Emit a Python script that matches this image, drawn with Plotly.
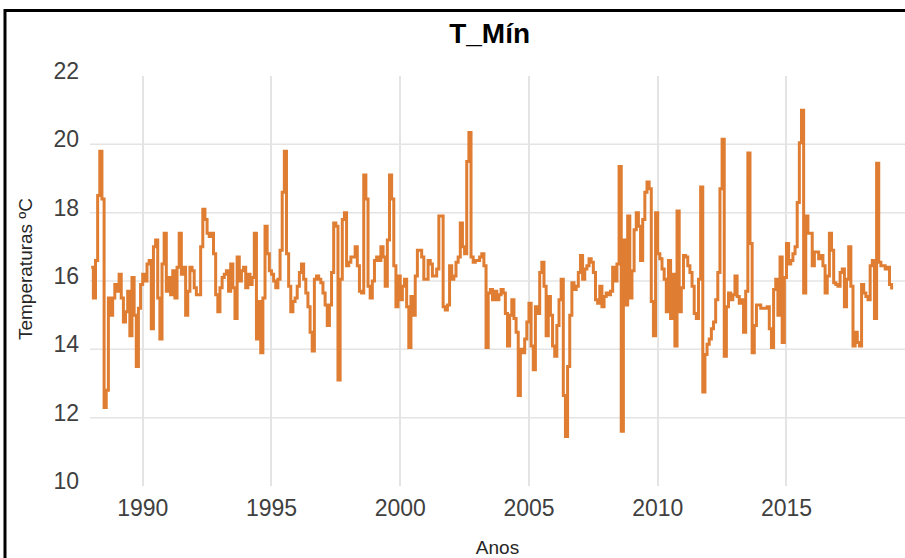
import plotly.graph_objects as go

# Monthly minimum temperature (ºC), Jan 1988 .. Feb 2019
t_1988 = [16.4, 15.5, 16.6, 18.5, 19.8, 18.4, 12.3, 12.8, 15.5, 15.0, 15.5, 15.9]
t_1989 = [15.7, 16.2, 15.5, 14.8, 15.1, 15.7, 14.4, 16.1, 15.0, 13.5, 15.2, 15.9]
t_1990 = [16.2, 16.0, 16.5, 16.6, 14.6, 17.0, 17.2, 15.5, 14.3, 16.5, 17.4, 15.7]
t_1991 = [16.1, 15.6, 16.3, 15.5, 16.4, 17.4, 16.2, 16.4, 15.0, 15.7, 16.4, 16.3]
t_1992 = [15.8, 15.6, 15.6, 17.0, 18.1, 17.8, 17.4, 17.3, 17.4, 16.8, 15.6, 15.1]
t_1993 = [15.8, 16.1, 16.2, 16.3, 15.7, 16.5, 15.8, 14.9, 16.7, 16.0, 16.3, 16.4]
t_1994 = [15.8, 16.2, 15.9, 16.1, 17.4, 14.3, 15.4, 13.9, 15.5, 17.6, 16.8, 16.3]
t_1995 = [16.2, 16.0, 15.8, 16.05, 16.9, 18.6, 19.8, 16.8, 15.85, 15.1, 15.4, 15.5]
t_1996 = [15.85, 16.25, 16.5, 16.05, 15.65, 15.25, 14.5, 13.95, 16.05, 16.15, 16.05, 15.95]
t_1997 = [15.65, 15.3, 14.7, 15.3, 16.25, 17.7, 17.6, 13.1, 16.05, 17.8, 18.0, 16.45]
t_1998 = [16.55, 16.7, 16.7, 17.0, 16.45, 15.7, 15.65, 19.1, 18.4, 15.85, 15.5, 16.0]
t_1999 = [16.6, 16.7, 16.6, 17.0, 16.7, 15.85, 17.2, 19.1, 18.4, 16.45, 15.25, 16.15]
t_2000 = [15.45, 15.85, 16.05, 15.25, 14.05, 15.55, 15.0, 16.15, 16.9, 16.9, 16.7, 16.05]
t_2001 = [16.05, 16.6, 16.5, 16.15, 16.15, 16.35, 17.9, 17.9, 15.25, 15.15, 15.3, 16.45]
t_2002 = [16.05, 16.15, 16.55, 16.7, 17.7, 17.0, 16.8, 19.5, 20.35, 16.7, 16.55, 16.6]
t_2003 = [16.6, 16.7, 16.8, 16.45, 14.05, 15.65, 15.75, 15.45, 15.7, 15.45, 15.6, 15.75]
t_2004 = [15.65, 15.05, 14.1, 15.0, 15.45, 14.9, 14.5, 12.65, 14.0, 13.9, 14.3, 14.8]
t_2005 = [15.35, 14.1, 13.4, 15.25, 15.05, 16.25, 16.55, 15.85, 14.4, 15.55, 15.0, 14.1]
t_2006 = [13.8, 14.7, 15.45, 16.05, 12.65, 11.45, 13.5, 15.0, 15.95, 15.75, 15.85, 16.25]
t_2007 = [16.75, 16.05, 16.35, 16.45, 16.65, 16.55, 16.25, 15.45, 15.35, 15.85, 15.25, 15.55]
t_2008 = [15.65, 15.6, 15.7, 16.4, 16.0, 16.5, 19.35, 11.6, 17.2, 15.3, 17.9, 15.5]
t_2009 = [16.3, 17.5, 18.0, 17.6, 16.6, 17.8, 18.6, 18.9, 18.7, 15.4, 14.4, 18.0]
t_2010 = [16.8, 16.65, 16.35, 16.05, 15.1, 16.6, 14.9, 16.2, 14.1, 18.05, 15.1, 15.8]
t_2011 = [16.75, 16.7, 16.45, 16.25, 15.85, 15.05, 14.9, 16.05, 18.75, 12.75, 13.85, 14.15]
t_2012 = [14.3, 14.6, 14.8, 15.45, 16.25, 18.7, 20.15, 13.8, 15.25, 15.65, 15.45, 15.6]
t_2013 = [16.15, 15.55, 15.35, 15.45, 14.5, 15.7, 19.75, 17.1, 13.9, 14.7, 15.3, 15.3]
t_2014 = [15.2, 15.2, 15.2, 15.25, 14.6, 14.05, 15.75, 16.05, 15.0, 16.7, 14.2, 16.1]
t_2015 = [17.1, 16.5, 16.6, 16.8, 17.0, 18.3, 20.05, 21.0, 15.65, 17.9, 17.4, 17.4]
t_2016 = [16.45, 16.85, 16.85, 16.65, 16.75, 16.45, 15.65, 16.15, 17.4, 16.9, 15.95, 15.9]
t_2017 = [15.85, 16.25, 16.35, 15.25, 16.05, 17.0, 15.85, 14.1, 14.5, 14.2, 14.1, 15.9]
t_2018 = [15.65, 15.55, 15.45, 16.45, 16.6, 14.9, 19.45, 16.55, 16.45, 16.45, 16.35, 16.4]
t_2019 = [15.9, 15.75]

start_year = 1988
years_tick = [1990, 1995, 2000, 2005, 2010, 2015]
y_ticks = [10, 12, 14, 16, 18, 20, 22]
y_grid = [12, 14, 16, 18, 20]

series = (t_1988 + t_1989 + t_1990 + t_1991 + t_1992 + t_1993 + t_1994 + t_1995 +
          t_1996 + t_1997 + t_1998 + t_1999 + t_2000 + t_2001 + t_2002 + t_2003 +
          t_2004 + t_2005 + t_2006 + t_2007 + t_2008 + t_2009 + t_2010 + t_2011 +
          t_2012 + t_2013 + t_2014 + t_2015 + t_2016 + t_2017 + t_2018 + t_2019)
x = [start_year + i / 12 for i in range(len(series))]

LINE = "#DF7D32"
GRID = "#E4E4E4"
TXT = "#404040"
FONT = "Liberation Sans, Arial, sans-serif"

fig = go.Figure()
fig.add_trace(go.Scatter(x=x, y=series, mode="lines",
                         line=dict(color=LINE, width=3, shape="hv"),
                         hoverinfo="x+y"))

shapes = []
for v in y_grid:
    shapes.append(dict(type="line", xref="paper", x0=0, x1=1, yref="y", y0=v, y1=v,
                       line=dict(color=GRID, width=1.5), layer="below"))
# outer frame of the chart
shapes.append(dict(type="rect", xref="paper", yref="paper",
                   x0=-0.1043, x1=1.3, y0=-0.5, y1=1.1598,
                   line=dict(color="black", width=3), fillcolor="rgba(0,0,0,0)",
                   layer="above"))

fig.update_layout(
    width=905, height=558,
    margin=dict(l=90, r=0, t=76, b=72),
    paper_bgcolor="white", plot_bgcolor="white",
    showlegend=False,
    font=dict(family=FONT, color=TXT),
    title=dict(text="<b>T_Mín</b>", font=dict(family=FONT, size=28, color="black"),
               x=0.541, xref="container", xanchor="center",
               y=1 - 33 / 558, yref="container", yanchor="middle"),
    shapes=shapes,
    annotations=[dict(text="Temperaturas ºC", textangle=-90,
                      xref="paper", yref="paper", x=-0.0798, y=0.529,
                      xanchor="center", yanchor="middle", showarrow=False,
                      font=dict(size=19, color="#262626", family=FONT))],
    xaxis=dict(range=[1987.953, 2019.603], tickvals=years_tick,
               ticktext=[str(v) for v in years_tick],
               showgrid=True, gridcolor=GRID, gridwidth=1.5,
               zeroline=False, showline=False, ticks="",
               tickfont=dict(size=23, color=TXT, family=FONT),
               ticklabelstandoff=6,
               title=dict(text="Anos", font=dict(size=19, color="#262626", family=FONT),
                          standoff=21)),
    yaxis=dict(range=[10, 22], tickvals=y_ticks,
               ticktext=[str(v) for v in y_ticks],
               showgrid=False, zeroline=False, showline=False, ticks="",
               tickfont=dict(size=23, color=TXT, family=FONT),
               ticklabelstandoff=10, ticklabelshift=-5),
)

fig.write_html("out.html")
